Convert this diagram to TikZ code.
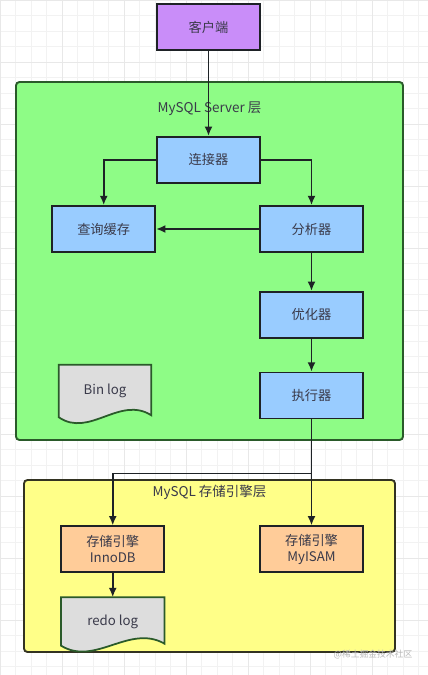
\documentclass[tikz,border=0pt]{standalone}
\usepackage{fontspec}
\setmainfont{Noto Sans CJK SC}
\usepackage{xcolor}
\usetikzlibrary{shapes,arrows.meta,calc,positioning}
\definecolor{clientfill}{HTML}{C98DF9}
\definecolor{serverfill}{HTML}{8EFC86}
\definecolor{serverline}{HTML}{2A5A2A}
\definecolor{enginefill}{HTML}{FFFF88}
\definecolor{engineline}{HTML}{333322}
\definecolor{blockblue}{HTML}{99CCFF}
\definecolor{blockpeach}{HTML}{FFCC99}
\definecolor{docfill}{HTML}{DDDDDD}
\definecolor{boxline}{HTML}{1E2226}
\definecolor{txt}{HTML}{3A3A4A}
\tikzstyle{block} = [rectangle, draw=boxline, line width=1.5pt, fill=blockblue, text=txt, minimum width=3.09cm, minimum height=1.38cm, font=\fontsize{11.3}{13.5}\selectfont, align=center]
\tikzstyle{line} = [draw=boxline, -{Latex[length=2.8mm, width=2.4mm]}, line width=1.5pt]
\tikzstyle{layer} = [rectangle, line width=1.6pt, rounded corners=3pt]
\tikzstyle{doc} = [rectangle, text=txt, font=\fontsize{11.3}{13.5}\selectfont]
\tikzstyle{title} = [text=txt, font=\fontsize{11.5}{13}\selectfont]
\newcommand{\logpaper}[1]{%
  \filldraw[fill=docfill, draw=serverline, line width=1.5pt] (#1.north west) -- (#1.north east) -- ($(#1.south east)+(0,-2)$)
    .. controls ($(#1.south west)!0.66!(#1.south east)+(0,-22)$) and ($(#1.south west)!0.33!(#1.south east)+(0,21)$) .. (#1.south west) -- cycle;}

\begin{document}
\begin{tikzpicture}[x=0.03cm, y=-0.03cm]
\useasboundingbox (0,0) rectangle (428,675);
\fill[white] (0,0) rectangle (428,675);
\draw[gray!10, line width=0.3pt, step=0.465cm] (0,0) grid (428,675);
\draw[gray!18, line width=0.4pt, step=1.86cm] (0,0) grid (428,675);

% layers
\node [layer, draw=serverline, fill=serverfill, minimum width=11.61cm, minimum height=10.74cm] (server) at (209.5,261) {};
\node [title] at ($(server.north)+(0,28)$) {MySQL Server 层};
\node [layer, draw=engineline, fill=enginefill, minimum width=11.13cm, minimum height=5.16cm] (engine) at (209.5,566) {};
\node [title] at ($(engine.north)+(0,13)$) {MySQL 存储引擎层};

% blocks
\node [block, fill=clientfill] (client) at (208.5,27) {客户端};
\node [block, below=2.55cm of client] (conn) {连接器};
\node [block] (parser) at (311.5,229) {分析器};
\node [block, left=3.09cm of parser] (cache) {查询缓存};
\node [block, below=1.14cm of parser] (optim) {优化器};
\node [block, below=0.99cm of optim] (exec) {执行器};
\node [block, fill=blockpeach, below=3.18cm of exec] (myisam) {存储引擎\\MyISAM};
\node [block, fill=blockpeach, left=2.82cm of myisam] (innodb) {存储引擎\\InnoDB};

% logs
\node [doc, minimum width=2.76cm, minimum height=1.56cm] (binlog) at (105,391) {};
\logpaper{binlog}
\node [doc] at (binlog) {Bin log};
\node [doc, minimum width=3.09cm, minimum height=1.44cm, below=0.72cm of innodb] (redolog) {};
\logpaper{redolog}
\node [doc] at (redolog) {redo log};

% flow
\path [line] (client) -- (conn);
\path [line] (conn.west) -| (cache.north);
\path [line] (conn.east) -| (parser.north);
\path [line] (parser.west) -- (cache.east);
\path [line] (parser) -- (optim);
\path [line] (optim) -- (exec);
\coordinate (fork) at ($(exec.south)+(0,54)$);
\path [line] (exec.south) -- (fork) -- (myisam.north);
\path [line] (fork) -| (innodb.north);
\path [line] (innodb) -- (redolog.north);

\node [text=gray!55, font=\fontsize{7.5}{9}\selectfont] (mark) at (373,655) {@稀土掘金技术社区};
\end{tikzpicture}
\end{document}
